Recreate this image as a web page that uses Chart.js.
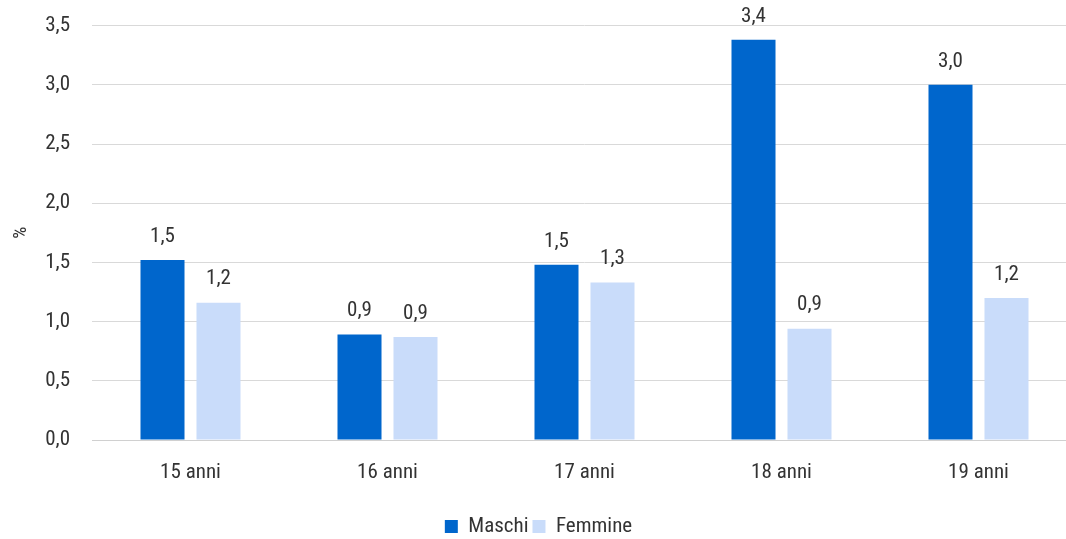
<!DOCTYPE html>
<html>
<head>
<meta charset="utf-8">
<script src="https://cdn.jsdelivr.net/npm/chart.js@4/dist/chart.umd.min.js"></script>
<style>
  html, body { margin:0; padding:0; background:#fff; overflow:hidden; }
  /* plot is wider than the window in the original, so the canvas overflows a bit */
  #wrap { width:1080px; height:556px; position:absolute; left:0; top:-9px; }
</style>
</head>
<body>
<div id="wrap"><canvas id="chart"></canvas></div>
<script>
// Values (percent)
const categories = ['15 anni', '16 anni', '17 anni', '18 anni', '19 anni'];
const maschi  = [1.52, 0.89, 1.48, 3.38, 3.00];
const femmine = [1.16, 0.87, 1.33, 0.94, 1.20];
const yTicks  = [0, 0.5, 1, 1.5, 2, 2.5, 3, 3.5];

const FONT = "'Roboto Condensed', 'Liberation Sans Narrow', 'DejaVu Sans Condensed', 'Arial Narrow', sans-serif";
const TEXT = '#333333';
const fmt = v => v.toFixed(1).replace('.', ',');

// small inline replacement for the datalabels plugin
const valueLabels = {
  id: 'valueLabels',
  afterDatasetsDraw(chart){
    const ctx = chart.ctx;
    ctx.save();
    ctx.font = '21px ' + FONT;
    ctx.fillStyle = TEXT;
    ctx.textAlign = 'center';
    ctx.textBaseline = 'bottom';
    chart.data.datasets.forEach((ds, i) => {
      chart.getDatasetMeta(i).data.forEach((bar, j) => {
        ctx.fillText(fmt(ds.data[j]), bar.x, bar.y - 13);
      });
    });
    ctx.restore();
  }
};

new Chart(document.getElementById('chart'), {
  type: 'bar',
  data: {
    labels: categories,
    datasets: [
      { label: 'Maschi',  data: maschi,  backgroundColor: '#0066CC', borderWidth: 0 },
      { label: 'Femmine', data: femmine, backgroundColor: '#C9DCFA', borderWidth: 0 }
    ]
  },
  options: {
    responsive: true,
    maintainAspectRatio: false,
    animation: false,
    categoryPercentage: 0.5685,
    barPercentage: 0.786,
    layout: { padding: { top: 0, left: 0, right: 3, bottom: 0 } },
    plugins: {
      tooltip: { enabled: false },
      legend: {
        position: 'bottom',
        labels: {
          font: { family: FONT, size: 21 },
          color: TEXT,
          boxWidth: 13,
          boxHeight: 13,
          padding: 4
        }
      }
    },
    scales: {
      x: {
        grid: { display: false, drawTicks: false },
        border: { display: true, color: '#d0d0d0', width: 1 },
        ticks: { font: { family: FONT, size: 21 }, color: TEXT, padding: 20 },
        afterFit: s => { s.height = 72; }
      },
      y: {
        min: 0,
        max: 3.5,
        afterBuildTicks: s => { s.ticks = yTicks.map(v => ({ value: v })); },
        grid: { color: '#d9d9d9', drawTicks: false },
        border: { display: false },
        ticks: {
          font: { family: FONT, size: 21 },
          color: TEXT,
          padding: 22,
          callback: v => fmt(v)
        },
        title: {
          display: true,
          text: '%',
          font: { family: FONT, size: 19 },
          color: TEXT,
          padding: { top: 10, bottom: 0 }
        },
        afterFit: s => { s.width = 92; }
      }
    }
  },
  plugins: [valueLabels]
});
</script>
</body>
</html>
